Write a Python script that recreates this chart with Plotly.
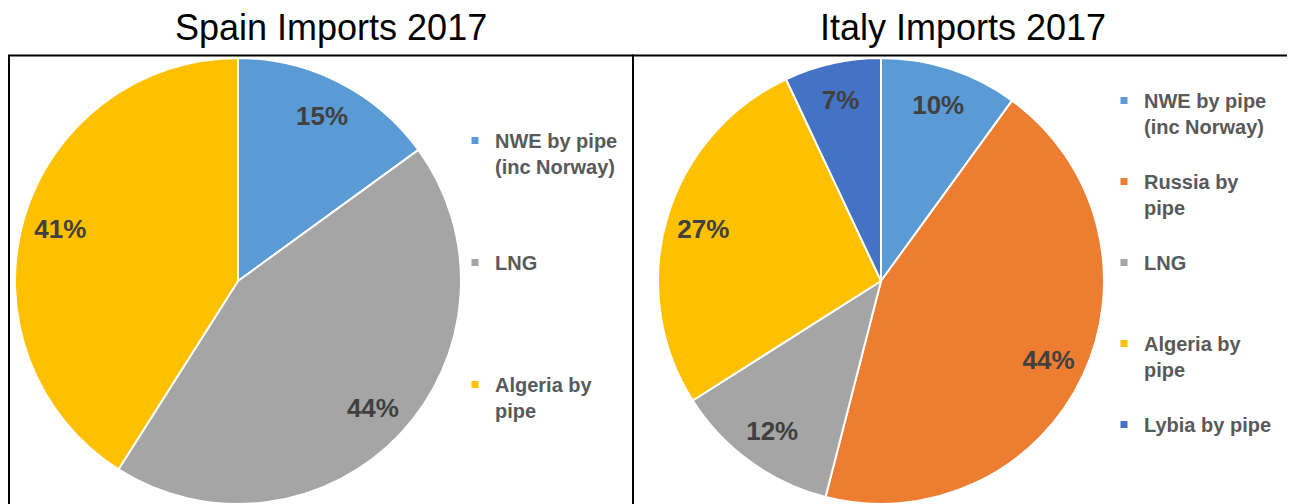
import plotly.graph_objects as go

# The page adds an 8px body margin, so the figure is drawn 8px in from the
# window's corner; positions below are given in window pixels and shifted.
WIN_W, WIN_H = 1295, 504
OFF = 8
W, H = WIN_W - OFF, WIN_H - OFF

# ---- data ----
spain_labels = ["NWE by pipe<br>(inc Norway)", "LNG", "Algeria by<br>pipe"]
spain_values = [15, 44, 41]
spain_colors = ["#5B9BD5", "#A5A5A5", "#FFC000"]

italy_labels = ["NWE by pipe<br>(inc Norway)", "Russia by<br>pipe", "LNG", "Algeria by<br>pipe", "Lybia by pipe"]
italy_values = [10, 44, 12, 27, 7]
italy_colors = ["#5B9BD5", "#ED7D31", "#A5A5A5", "#FFC000", "#4472C4"]

titles = ["Spain Imports 2017", "Italy Imports 2017"]

FONT = "Arial, 'Liberation Sans', sans-serif"


def px_x(v):
    return (v - OFF) / W


def px_y(v):
    return 1 - (v - OFF) / H


def pad(lbl):
    # every legend entry occupies two lines, as in the original
    return lbl if "<br>" in lbl else lbl + "<br> "


fig = go.Figure()


def add_pie(name, labels, values, colors, x0, x1, legend):
    dom = dict(x=[px_x(x0), px_x(x1)], y=[px_y(WIN_H), px_y(58)])
    fig.add_trace(go.Pie(
        labels=labels, values=values, sort=False, direction="clockwise",
        rotation=0, domain=dom, showlegend=False,
        marker=dict(colors=colors, line=dict(color="white", width=2)),
        textinfo="none", hoverinfo="label+percent",
    ))
    # transparent ring carrying the percentage labels near the rim
    fig.add_trace(go.Pie(
        labels=labels, values=values, sort=False, direction="clockwise",
        rotation=0, domain=dom, hole=0.66, showlegend=False,
        marker=dict(colors=["rgba(0,0,0,0)"] * len(values), line=dict(width=0)),
        textinfo="percent", textposition="inside", insidetextorientation="horizontal",
        textfont=dict(family=FONT, size=26, color="#404040", weight="bold"),
        hoverinfo="skip",
    ))
    # legend entries (one group each so the legend gap spaces them out)
    for lbl, col in zip(labels, colors):
        fig.add_trace(go.Scatter(
            x=[None], y=[None], mode="markers", name=pad(lbl),
            marker=dict(symbol="square", size=7, color=col, line=dict(width=0)),
            legend=legend, legendgroup=f"{name}-{lbl}", hoverinfo="skip",
        ))


add_pie("spain", spain_labels, spain_values, spain_colors, 15, 461, "legend")
add_pie("italy", italy_labels, italy_values, italy_colors, 658, 1104, "legend2")

legend_common = dict(
    font=dict(family=FONT, size=20, color="#595959", weight="bold"),
    traceorder="grouped", valign="top", bgcolor="rgba(0,0,0,0)",
    xanchor="left", yanchor="top", borderwidth=0, itemwidth=30,
)

fig.update_layout(
    width=W, height=H,
    margin=dict(l=0, r=0, t=0, b=0),
    paper_bgcolor="white", plot_bgcolor="rgba(0,0,0,0)",
    xaxis=dict(visible=False), yaxis=dict(visible=False),
    legend=dict(x=px_x(455), y=px_y(121), tracegroupgap=67, **legend_common),
    legend2=dict(x=px_x(1104), y=px_y(81), tracegroupgap=26, **legend_common),
    shapes=[
        dict(type="rect", xref="paper", yref="paper", x0=px_x(9), x1=px_x(633),
             y0=-0.2, y1=px_y(55.5), line=dict(color="black", width=2)),
        dict(type="rect", xref="paper", yref="paper", x0=px_x(633), x1=1.2,
             y0=-0.2, y1=px_y(55.5), line=dict(color="black", width=2)),
    ],
    annotations=[
        dict(text=titles[0], x=px_x(331), y=px_y(27), xref="paper", yref="paper",
             showarrow=False, xanchor="center", yanchor="middle",
             font=dict(family=FONT, size=36, color="black")),
        dict(text=titles[1], x=px_x(963), y=px_y(27), xref="paper", yref="paper",
             showarrow=False, xanchor="center", yanchor="middle",
             font=dict(family=FONT, size=36, color="black")),
    ],
)

fig.write_html("out.html")
